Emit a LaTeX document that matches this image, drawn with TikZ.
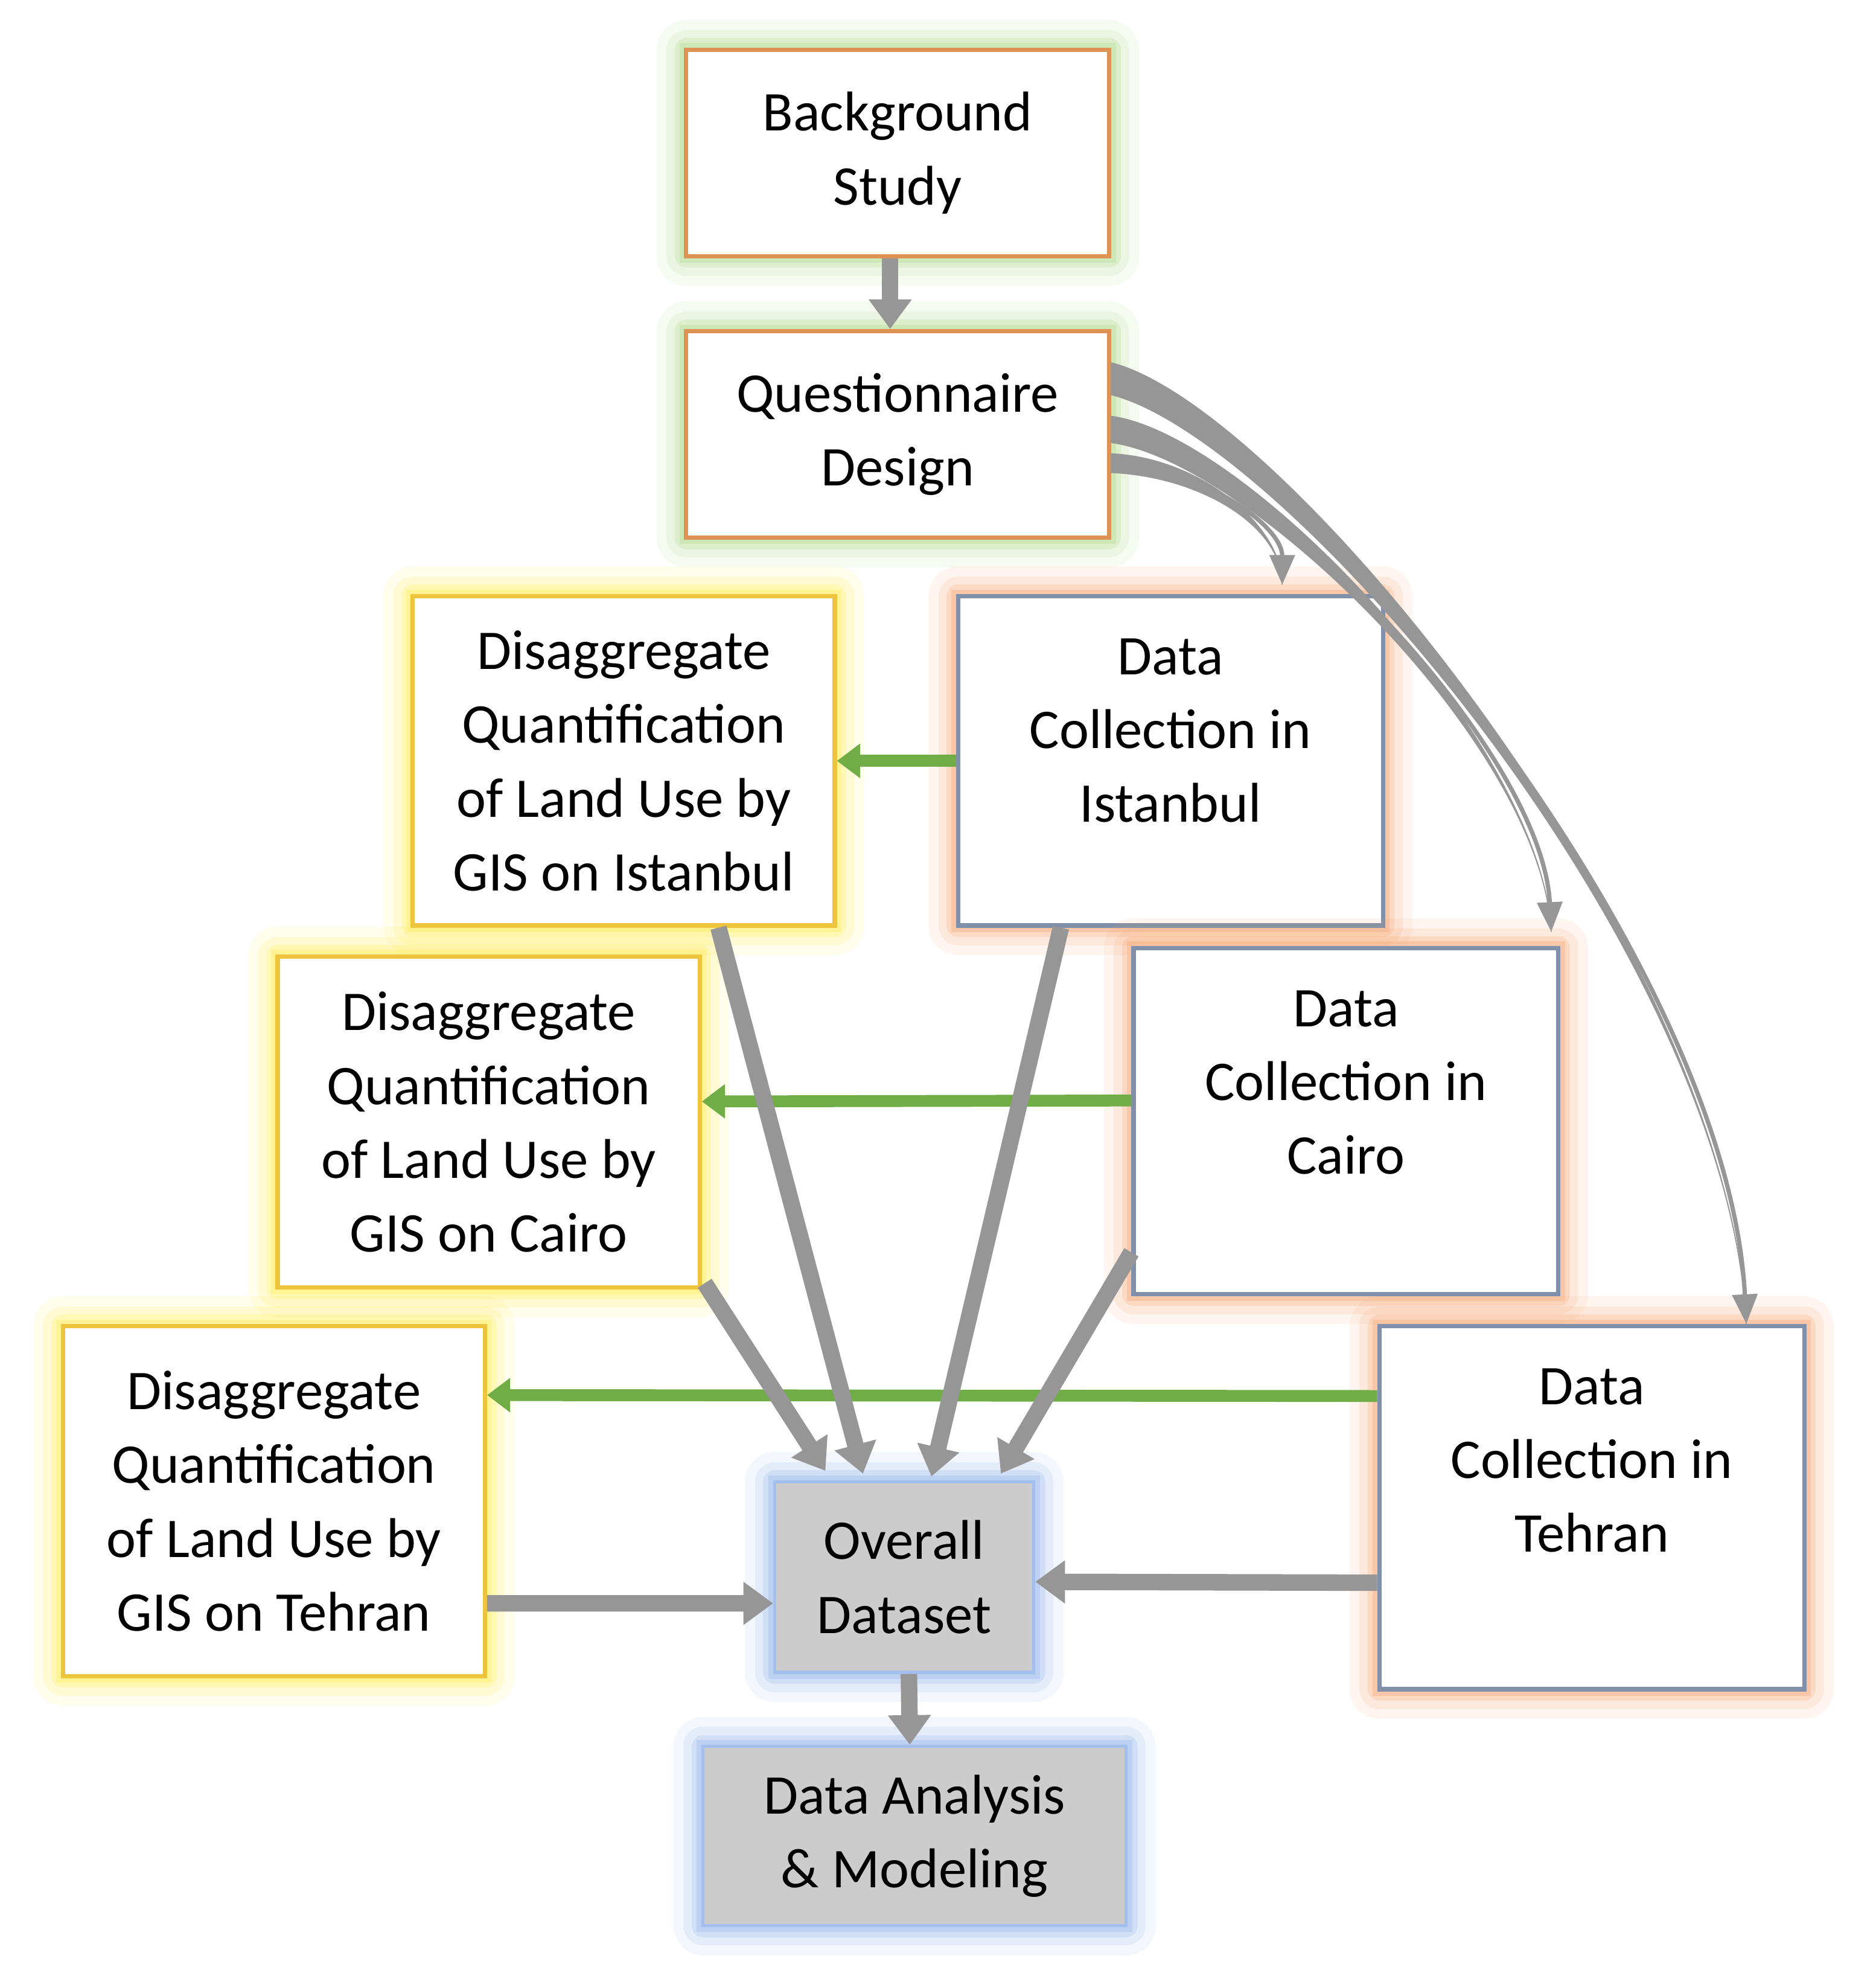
\documentclass[tikz,border=0pt]{standalone}
\usepackage{fontspec}
\setmainfont{Carlito}
\usetikzlibrary{positioning, arrows.meta}

\definecolor{qline}{RGB}{222,146,84}
\definecolor{qglow}{RGB}{170,214,130}
\definecolor{yline}{RGB}{238,196,60}
\definecolor{yglow}{RGB}{255,234,70}
\definecolor{dline}{RGB}{128,144,170}
\definecolor{dglow}{RGB}{245,160,105}
\definecolor{oglow}{RGB}{140,175,232}
\definecolor{ofill}{RGB}{204,204,204}
\definecolor{agray}{RGB}{150,150,150}
\definecolor{ggreen}{RGB}{112,173,71}

\tikzset{
  glow/.style={preaction={draw=#1, draw opacity=.1, line width=18pt, line join=round},
               preaction={draw=#1, draw opacity=.15, line width=12pt, line join=round},
               preaction={draw=#1, draw opacity=.22, line width=7pt, line join=round},
               preaction={draw=#1, draw opacity=.3, line width=4pt}},
  qbox/.style={rectangle, draw=qline, line width=1.3pt, fill=white, align=center, glow=qglow,
               minimum width=4.51cm, minimum height=2.2cm},
  gbox/.style={rectangle, draw=yline, line width=1.3pt, fill=white, align=center, glow=yglow,
               minimum width=4.5cm},
  dbox/.style={rectangle, draw=dline, line width=1.3pt, fill=white, glow=dglow,
               minimum width=4.53cm},
  obox/.style={rectangle, draw=oglow!80, line width=1pt, fill=ofill, align=center, glow=oglow},
  dtext/.style={anchor=north, align=center, yshift=-0.35cm},
  gar/.style={draw=agray, line width=5pt, -{Triangle[length=9pt, width=12.5pt]}},
  grn/.style={draw=ggreen, line width=3.6pt, -{Triangle[length=7pt, width=10pt]}},
  cur/.style={draw=agray, line width=1.3pt, -{Triangle[length=9pt, width=7.5pt]}},
  taper/.style={fill=agray, draw=agray, line width=0.3pt}
}

\begin{document}
\begin{tikzpicture}[font=\fontsize{17}{22.4}\selectfont]
\useasboundingbox (0,0) rectangle (20,-21.03);

\node[qbox] (bg) at (9.57, -1.63) {Background\\Study};
\node[qbox] (qd) at (9.57, -4.63) {Questionnaire\\Design};

\node[gbox, minimum height=3.51cm] (gi) at (6.65, -8.11) {Disaggregate\\Quantification\\of Land Use by\\GIS on Istanbul};
\node[dbox, minimum height=3.51cm, label={[dtext]north:{Data\\Collection in\\Istanbul}}] (di) at (12.48, -8.11) {};

\node[gbox, minimum height=3.53cm] (gc) at (5.21, -11.96) {Disaggregate\\Quantification\\of Land Use by\\GIS on Cairo};
\node[dbox, minimum height=3.69cm, label={[dtext]north:{Data\\Collection in\\Cairo}}] (dc) at (14.35, -11.95) {};

\node[gbox, minimum height=3.73cm] (gt) at (2.92, -16.0) {Disaggregate\\Quantification\\of Land Use by\\GIS on Tehran};
\node[dbox, minimum height=3.87cm, label={[dtext]north:{Data\\Collection in\\Tehran}}] (dt) at (16.97, -16.07) {};

\node[obox, minimum width=2.76cm, minimum height=2.03cm] (ov) at (9.64, -16.81) {Overall\\Dataset};
\node[obox, minimum width=4.51cm, minimum height=1.91cm] (an) at (9.75, -19.57) {Data Analysis\\\& Modeling};

% green arrows
\draw[grn] (di.west) -- (gi.east);
\draw[grn] ([yshift=0.22cm]dc.west) -- ([yshift=0.22cm]gc.east);
\draw[grn] ([yshift=1.19cm]dt.west) -- ([yshift=1.13cm]gt.east);

% gray arrows
\draw[gar] ([xshift=-0.08cm]bg.south) -- ([xshift=-0.08cm]qd.north);
\draw[gar] ([xshift=1.01cm]gi.south) -- ([xshift=-0.44cm, yshift=0.07cm]ov.north);
\draw[gar] ([xshift=-1.17cm]di.south) -- ([xshift=0.29cm, yshift=0.04cm]ov.north);
\draw[gar] ([xshift=0.03cm, yshift=0.07cm]gc.south east) -- ([xshift=-0.84cm, yshift=0.1cm]ov.north);
\draw[gar] ([yshift=0.47cm]dc.south west) -- ([xshift=1.03cm, yshift=0.07cm]ov.north);
\draw[gar] ([yshift=-1.09cm]gt.east) -- ([yshift=-0.28cm]ov.west);
\draw[gar] ([yshift=-0.8cm]dt.west) -- ([yshift=-0.05cm]ov.east);
\draw[gar] ([xshift=0.05cm]ov.south) -- ([xshift=-0.05cm]an.north);

% curved arrows
\filldraw[taper] ([yshift=-0.36cm]qd.north east) .. controls +(1.87,-0.47) and +(-0.2,3.97) .. ([xshift=-0.64cm]dt.north east)
  .. controls +(-0.2,3.97) and +(1.87,-0.47) .. ([yshift=-0.7cm]qd.north east) -- cycle;
\draw[cur] ([yshift=-0.53cm]qd.north east) .. controls +(1.87,-0.47) and +(-0.2,3.97) .. ([xshift=-0.64cm]dt.north east);
\filldraw[taper] ([yshift=-0.93cm]qd.north east) .. controls +(1.47,-0.2) and +(-0.1,2.0) .. ([xshift=-0.1cm, yshift=0.15cm]dc.north east)
  .. controls +(-0.1,2.0) and +(1.47,-0.2) .. ([yshift=-1.21cm]qd.north east) -- cycle;
\draw[cur] ([yshift=-1.07cm]qd.north east) .. controls +(1.47,-0.2) and +(-0.1,2.0) .. ([xshift=-0.1cm, yshift=0.15cm]dc.north east);
\filldraw[taper] ([yshift=-1.33cm]qd.north east) .. controls +(0.93,-0.04) and +(0,0.64) .. ([xshift=1.19cm, yshift=0.1cm]di.north)
  .. controls +(0,0.64) and +(0.93,-0.04) .. ([yshift=-1.53cm]qd.north east) -- cycle;
\draw[cur] ([yshift=-1.43cm]qd.north east) .. controls +(0.93,-0.04) and +(0,0.64) .. ([xshift=1.19cm, yshift=0.1cm]di.north);
\end{tikzpicture}
\end{document}
